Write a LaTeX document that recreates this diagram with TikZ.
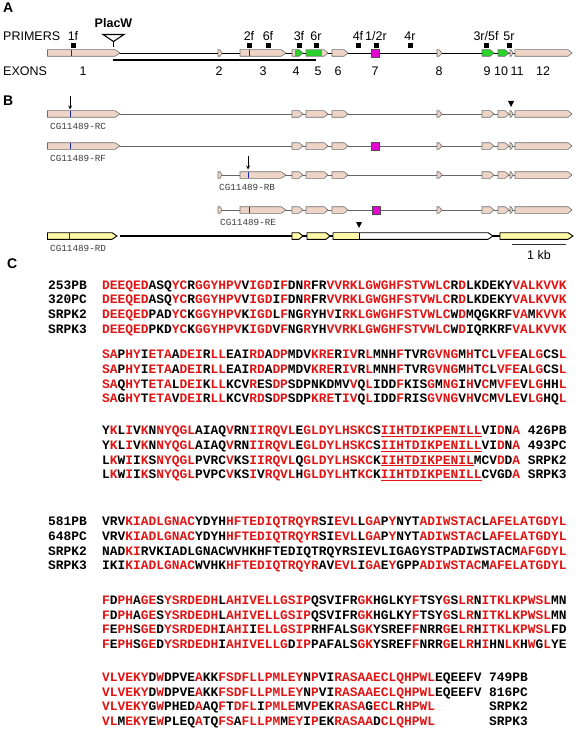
\documentclass[tikz,border=0pt]{standalone}
\usepackage{fontspec}
\setmainfont{Liberation Sans}
\setmonofont{Liberation Mono}
\usepackage{xcolor}
\usepackage{tikz}
\usetikzlibrary{arrows}

\definecolor{exbeige}{RGB}{238,212,198}
\definecolor{exedge}{RGB}{110,110,110}
\definecolor{exgreen}{RGB}{40,210,40}
\definecolor{exmagenta}{RGB}{230,0,210}
\definecolor{exyellow}{RGB}{255,248,165}
\definecolor{exblue}{RGB}{20,40,170}
\definecolor{alred}{RGB}{225,20,20}
\definecolor{lblgray}{RGB}{60,60,60}

\newcommand{\rd}[1]{\textcolor{alred}{#1}}
\newcommand{\ul}[1]{\textcolor{alred}{\underline{#1}}}
\newcommand{\exon}[5][4]{\filldraw[#5] (#2,#4-3.3) -- (#3-#1,#4-3.3) -- (#3,#4) -- (#3-#1,#4+3.3) -- (#2,#4+3.3) -- cycle;}
\newcommand{\magexon}[2]{\filldraw[ExMagenta] (#1-4,#2-4) rectangle (#1+4,#2+4);}
\newcommand{\tailexons}[1]{\exon{292}{303}{#1}{ExBeige} \exon{306}{328}{#1}{ExBeige} \exon{332}{348}{#1}{ExBeige}
  \exon[3]{437}{442}{#1}{ExBeige} \exon{482}{494}{#1}{ExBeige} \exon{498}{509}{#1}{ExBeige}
  \exon[2]{510}{513}{#1}{ExBeige} \exon{515}{572}{#1}{ExBeige}}

\begin{document}
\begin{tikzpicture}[x=1pt,y=-1pt]
	\tikzstyle{ExBeige}   = [fill=exbeige, draw=exedge, line width=0.6pt]
	\tikzstyle{ExGreen}   = [fill=exgreen, draw=exedge, line width=0.6pt]
	\tikzstyle{ExMagenta} = [fill=exmagenta, draw=black!70, line width=0.6pt]
	\tikzstyle{ExYellow}  = [fill=exyellow, draw=black, line width=0.9pt]
	\tikzstyle{ExWhite}   = [fill=white, draw=black, line width=0.9pt]
	\tikzstyle{Intron}    = [draw=black!60, line width=0.6pt]
	\tikzstyle{PanelStyle}= [anchor=base west, inner sep=0pt, font=\bfseries\fontsize{14}{14}\selectfont]
	\tikzstyle{TextStyle} = [anchor=base, inner sep=0pt, font=\fontsize{12.5}{12.5}\selectfont]
	\tikzstyle{PrimerStyle} = [fill=black, inner sep=0pt, minimum size=5pt]
	\tikzstyle{IsoStyle}  = [anchor=base west, inner sep=0pt, text=lblgray, font=\ttfamily\fontsize{9.3}{9.3}\selectfont]
	\tikzstyle{SeqStyle}  = [anchor=base west, inner sep=0pt, font=\ttfamily\bfseries\fontsize{12.9}{12.9}\selectfont]
	\useasboundingbox (0,0) rectangle (577,733);

	\node[PanelStyle] (A) at (3,13) {A};
	\node[PanelStyle] (B) at (3,106) {B};
	\node[PanelStyle] (C) at (7,268) {C};

	\node[TextStyle, anchor=base west] (primers) at (3,41) {PRIMERS};
	\node[TextStyle, anchor=base west] (exons) at (3,76) {EXONS};
	\node[TextStyle, font=\bfseries\fontsize{12.5}{12.5}\selectfont] (placw) at (113.5,28) {PlacW};

	\coordinate (g0) at (47,53);
	\coordinate (g1) at (572,53);
	\draw[line width=0.8pt] (g0) -- (g1);
	\coordinate (u0) at (113,60.5);
	\coordinate (u1) at (316,60.5);
	\draw[line width=2pt] (u0) -- (u1);

	\exon[5]{47.5}{120}{53}{ExBeige}
	\draw[exblue, line width=1pt] (71,50) -- (71,56);
	\exon[2]{218}{222}{53}{ExBeige}
	\exon[5]{240}{286}{53}{ExBeige}
	\draw[exblue, line width=1pt] (249,50) -- (249,56);
	\fill[exbeige] (292,49.7) rectangle (295,56.3);
	\fill[exgreen] (295,49.7) -- (299,49.7) -- (303,53) -- (299,56.3) -- (295,56.3) -- cycle;
	\exon{292}{303}{53}{fill=none, draw=exedge, line width=0.6pt}
	\fill[exgreen] (306,49.7) rectangle (322,56.3);
	\fill[exbeige] (322,49.7) -- (324,49.7) -- (328,53) -- (324,56.3) -- (322,56.3) -- cycle;
	\exon{306}{328}{53}{fill=none, draw=exedge, line width=0.6pt}
	\exon{332}{348}{53}{ExBeige}
	\magexon{375}{53}
	\exon[3]{437}{442}{53}{ExBeige}
	\exon{482}{494}{53}{ExGreen}
	\exon{498}{509}{53}{ExGreen}
	\exon[2]{510}{513}{53}{ExBeige}
	\exon{515}{572}{53}{ExBeige}

	\draw[line width=1.1pt] (103,34.5) -- (124,34.5) -- (113.5,41.5) -- cycle;
	\draw[line width=1.1pt] (113.5,41.5) -- (113.5,47);

	\foreach \nm/\x in {1f/73, 2f/249, 6f/268, 3f/299, 6r/316, 4f/358, {1/2r}/376, 4r/410, {3r/5f}/486, 5r/509} {
		\node[PrimerStyle] (p\x) at (\x,45.5) {};
		\node[TextStyle] (t\x) at (\x,40.5) {\nm};
	}
	\foreach \nm/\x in {1/83, 2/219, 3/263, 4/296, 5/318, 6/338, 7/375, 8/439, 9/487, 10/501, 11/517, 12/543}
		\node[TextStyle] (e\nm) at (\x,76) {\nm};

	\coordinate (rc0) at (120,114);
	\coordinate (rc1) at (515,114);
	\draw[Intron] (rc0) -- (rc1);
	\exon[5]{47.5}{120}{114}{ExBeige}
	\draw[exblue, line width=1pt] (70,111) -- (70,117);
	\tailexons{114}
	\node[IsoStyle] (rc) at (50,129) {CG11489-RC};
	\coordinate (arc0) at (70,96);
	\coordinate (arc1) at (70,109.5);
	\draw[-stealth, line width=0.8pt] (arc0) -- (arc1);
	\fill (508,101) -- (514,101) -- (511,107) -- cycle;

	\coordinate (rf0) at (120,146);
	\coordinate (rf1) at (515,146);
	\draw[Intron] (rf0) -- (rf1);
	\exon[5]{47.5}{120}{146}{ExBeige}
	\draw[exblue, line width=1pt] (70,143) -- (70,149);
	\tailexons{146}
	\magexon{375}{146}
	\node[IsoStyle] (rf) at (50,161) {CG11489-RF};

	\coordinate (rb0) at (218,175);
	\coordinate (rb1) at (515,175);
	\draw[Intron] (rb0) -- (rb1);
	\exon[2]{218}{222}{175}{ExBeige}
	\exon[5]{240}{286}{175}{ExBeige}
	\draw[exblue, line width=1pt] (248,172) -- (248,178);
	\tailexons{175}
	\node[IsoStyle] (rb) at (219,190) {CG11489-RB};
	\coordinate (arb0) at (248,156);
	\coordinate (arb1) at (248,169.5);
	\draw[-stealth, line width=0.8pt] (arb0) -- (arb1);

	\coordinate (re0) at (218,210);
	\coordinate (re1) at (515,210);
	\draw[Intron] (re0) -- (re1);
	\exon[2]{218}{222}{210}{ExBeige}
	\exon[5]{240}{286}{210}{ExBeige}
	\draw[exblue, line width=1pt] (249,207) -- (249,213);
	\tailexons{210}
	\magexon{376}{210}
	\node[IsoStyle] (re) at (220,225) {CG11489-RE};

	\coordinate (rd0) at (120,236);
	\coordinate (rd1) at (500,236);
	\draw[line width=1.1pt] (rd0) -- (rd1);
	\exon[5]{47.5}{117}{236}{ExYellow}
	\draw[exblue, line width=1pt] (69,233) -- (69,239);
	\exon{292}{303}{236}{ExYellow}
	\exon{307}{330}{236}{ExYellow}
	\exon[5]{333}{493}{236}{ExWhite}
	\fill[exyellow] (333.5,233.2) rectangle (359,238.8);
	\draw[line width=0.9pt] (359,232.7) -- (359,239.3);
	\exon[5]{500}{573}{236}{ExYellow}
	\fill (356,222) -- (362,222) -- (359,228) -- cycle;
	\node[IsoStyle] (rd) at (50,251) {CG11489-RD};

	\coordinate (kb0) at (512,244);
	\coordinate (kb1) at (566,244);
	\draw[line width=1pt, black!80] (kb0) -- (kb1);
	\node[TextStyle] (kb) at (539,259) {1 kb};

	\node[SeqStyle] (n11) at (48,289.4) {253PB};
	\node[SeqStyle] (n12) at (48,303.9) {320PC};
	\node[SeqStyle] (n13) at (48,318.5) {SRPK2};
	\node[SeqStyle] (n14) at (48,333.1) {SRPK3};
	\node[SeqStyle] (s11) at (102,289.4) {\rd{DEEQED}ASQ\rd{YC}R\rd{GGYHPV}V\rd{IGD}I\rd{F}DN\rd{R}FR\rd{VVRKLGWGHFSTVWLC}R\rd{D}LKDEKY\rd{VALKVVK}};
	\node[SeqStyle] (s12) at (102,303.9) {\rd{DEEQED}ASQ\rd{YC}R\rd{GGYHPV}V\rd{IGD}I\rd{F}DN\rd{R}FR\rd{VVRKLGWGHFSTVWLC}R\rd{D}LKDEKY\rd{VALKVVK}};
	\node[SeqStyle] (s13) at (102,318.5) {\rd{DEEQED}PAD\rd{YC}K\rd{GGYHPV}K\rd{IGD}L\rd{F}NG\rd{R}YH\rd{V}I\rd{RKLGWGHFSTVWLC}W\rd{D}MQGKRF\rd{VA}M\rd{KVVK}};
	\node[SeqStyle] (s14) at (102,333.1) {\rd{DEEQED}PKD\rd{YC}K\rd{GGYHPV}K\rd{IGD}V\rd{F}NG\rd{R}YH\rd{VVRKLGWGHFSTVWLC}W\rd{D}IQRKRF\rd{VALKVVK}};

	\node[SeqStyle] (s21) at (102,358.9) {\rd{SA}P\rd{HY}I\rd{ETA}A\rd{DEI}R\rd{LL}EAI\rd{RD}A\rd{DP}MDV\rd{KRE}R\rd{IV}R\rd{L}MNH\rd{F}TVR\rd{GVNG}M\rd{H}T\rd{C}L\rd{VFE}A\rd{LG}CS\rd{L}};
	\node[SeqStyle] (s22) at (102,373.5) {\rd{SA}P\rd{HY}I\rd{ETA}A\rd{DEI}R\rd{LL}EAI\rd{RD}A\rd{DP}MDV\rd{KRE}R\rd{IV}R\rd{L}MNH\rd{F}TVR\rd{GVNG}M\rd{H}T\rd{C}L\rd{VFE}A\rd{LG}CS\rd{L}};
	\node[SeqStyle] (s23) at (102,388.1) {\rd{SA}Q\rd{HY}T\rd{ETA}L\rd{DEI}K\rd{LL}KCV\rd{R}ES\rd{DP}SDPNKDMV\rd{V}Q\rd{L}IDD\rd{F}KIS\rd{G}M\rd{NG}I\rd{H}V\rd{C}M\rd{VFE}V\rd{LG}HH\rd{L}};
	\node[SeqStyle] (s24) at (102,402.7) {\rd{SA}G\rd{HY}T\rd{ETA}V\rd{DEI}R\rd{LL}KCV\rd{RD}S\rd{DP}SDP\rd{KRE}T\rd{IV}Q\rd{L}IDD\rd{F}RIS\rd{GVNG}V\rd{H}V\rd{C}M\rd{V}L\rd{E}V\rd{LG}HQ\rd{L}};

	\node[SeqStyle] (s31) at (102,434.9) {Y\rd{K}L\rd{I}V\rd{K}N\rd{NYQGL}AIAQ\rd{V}RN\rd{IIRQVL}E\rd{GLDYLHSKC}S\ul{IIHTDIKPENILL}VI\rd{D}N\rd{A}};
	\node[SeqStyle] (s32) at (102,449.5) {Y\rd{K}L\rd{I}V\rd{K}N\rd{NYQGL}AIAQ\rd{V}RN\rd{IIRQVL}E\rd{GLDYLHSKC}S\ul{IIHTDIKPENILL}VI\rd{D}N\rd{A}};
	\node[SeqStyle] (s33) at (102,464.1) {L\rd{K}W\rd{I}I\rd{K}S\rd{NYQGL}PVRC\rd{V}KS\rd{IIRQVL}Q\rd{GLDYLHSKC}K\ul{IIHTDIKPENIL}MCV\rd{D}D\rd{A}};
	\node[SeqStyle] (s34) at (102,478.7) {L\rd{K}W\rd{I}I\rd{K}S\rd{NYQGL}PVPC\rd{V}KS\rd{I}V\rd{RQVL}H\rd{GLDYLH}T\rd{KC}K\ul{IIHTDIKPENILL}CVGD\rd{A}};
	\node[SeqStyle] (m31) at (527.7,434.9) {426PB};
	\node[SeqStyle] (m32) at (527.7,449.5) {493PC};
	\node[SeqStyle] (m33) at (527.7,464.1) {SRPK2};
	\node[SeqStyle] (m34) at (527.7,478.7) {SRPK3};

	\node[SeqStyle] (n41) at (48,525.9) {581PB};
	\node[SeqStyle] (n42) at (48,540.5) {648PC};
	\node[SeqStyle] (n43) at (48,555.1) {SRPK2};
	\node[SeqStyle] (n44) at (48,569.7) {SRPK3};
	\node[SeqStyle] (s41) at (102,525.9) {VRV\rd{KIADLGNAC}YDYH\rd{HFTEDIQTRQYR}SI\rd{EVL}L\rd{GA}P\rd{Y}NYT\rd{ADIWSTAC}L\rd{AFELATGDYL}};
	\node[SeqStyle] (s42) at (102,540.5) {VRV\rd{KIADLGNAC}YDYH\rd{HFTEDIQTRQYR}SI\rd{EVL}L\rd{GA}P\rd{Y}NYT\rd{ADIWSTAC}L\rd{AFELATGDYL}};
	\node[SeqStyle] (s43) at (102,555.1) {NAD\rd{KI}RVKIADLGNACWVHKHFTEDIQTRQYRSIEVLIGAGYSTPADIWSTACM\rd{AFGDYL}};
	\node[SeqStyle] (s44) at (102,569.7) {IKI\rd{KIADLGNAC}WVHK\rd{HFTEDIQTRQYR}AV\rd{EVL}I\rd{GA}E\rd{Y}GPP\rd{ADIWSTAC}M\rd{AFELATGDYL}};

	\node[SeqStyle] (s51) at (102,604.6) {\rd{F}D\rd{PH}A\rd{GE}S\rd{YSRDEDH}L\rd{AHIVELLGSIP}QSVIFR\rd{GK}HGLKY\rd{F}TSY\rd{G}S\rd{LR}N\rd{ITKLKPWSL}MN};
	\node[SeqStyle] (s52) at (102,619.2) {\rd{F}D\rd{PH}A\rd{GE}S\rd{YSRDEDH}L\rd{AHIVELLGSIP}QSVIFR\rd{GK}HGLKY\rd{F}TSY\rd{G}S\rd{LR}N\rd{ITKLKPWSL}MN};
	\node[SeqStyle] (s53) at (102,633.8) {\rd{F}E\rd{PH}S\rd{GE}D\rd{YSRDEDH}I\rd{AHI}I\rd{ELLGSIP}RHFALS\rd{GK}YSREF\rd{F}NRR\rd{G}E\rd{LR}H\rd{ITKLKPWSL}FD};
	\node[SeqStyle] (s54) at (102,648.4) {\rd{F}E\rd{PH}S\rd{GE}D\rd{YSRDEDH}I\rd{AHIVELLG}D\rd{IP}PAFALS\rd{GK}YSREF\rd{F}NRR\rd{G}E\rd{LR}H\rd{I}HN\rd{LK}H\rd{W}G\rd{L}YE};

	\node[SeqStyle] (s61) at (102,681.5) {\rd{VLVEKY}D\rd{W}DPVE\rd{A}KK\rd{FSDFLLPMLEY}N\rd{P}VI\rd{RASAAECLQHPWL}EQEEFV};
	\node[SeqStyle] (s62) at (102,696.1) {\rd{VLVEKY}D\rd{W}DPVE\rd{A}KK\rd{FSDFLLPMLEY}N\rd{P}VI\rd{RASAAECLQHPWL}EQEEFV};
	\node[SeqStyle] (s63) at (102,710.7) {\rd{VLVEKY}G\rd{W}PHED\rd{A}AQ\rd{F}T\rd{DFL}I\rd{PMLE}MV\rd{P}EK\rd{RASA}G\rd{ECL}R\rd{HPWL}};
	\node[SeqStyle] (s64) at (102,725.3) {\rd{VL}M\rd{EKY}E\rd{W}PLEQ\rd{A}TQ\rd{FS}A\rd{FLLPM}M\rd{EY}I\rd{P}EK\rd{RASAA}D\rd{CLQHPWL}};
	\node[SeqStyle] (m61) at (489,681.5) {749PB};
	\node[SeqStyle] (m62) at (489,696.1) {816PC};
	\node[SeqStyle] (m63) at (489,710.7) {SRPK2};
	\node[SeqStyle] (m64) at (489,725.3) {SRPK3};
\end{tikzpicture}
\end{document}
